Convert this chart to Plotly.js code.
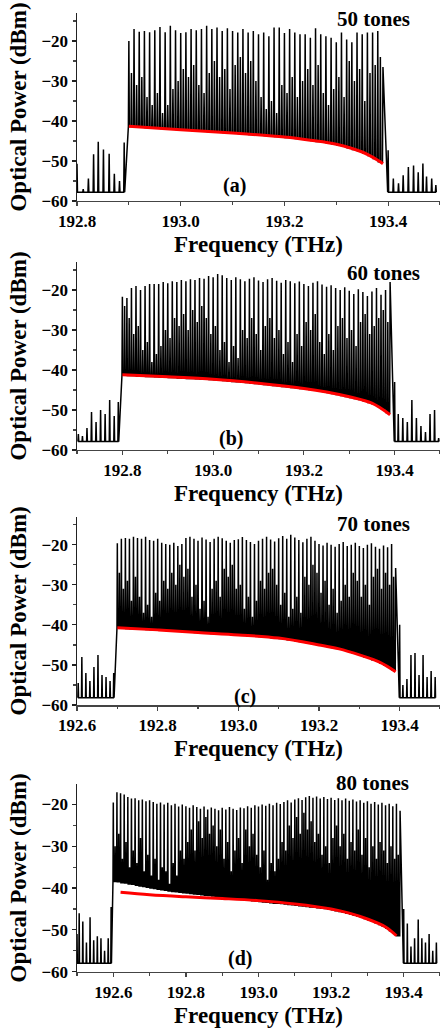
<!DOCTYPE html>
<html><head><meta charset="utf-8">
<script src="https://cdn.plot.ly/plotly-3.0.1.min.js"></script>
<style>html,body{margin:0;padding:0;background:#fff}#chart{width:440px;height:1032px}</style>
</head><body><div id="chart"></div>
<script>
// ---------- Panel (a): 50 tones ----------
const toneStartA = 192.90, toneStepA = 0.01;
const peaksA = [-20.0,-17.0,-17.7,-17.5,-17.8,-17.3,-16.5,-17.8,-16.2,-17.3,
  -18.0,-17.8,-17.0,-17.3,-17.0,-16.2,-17.0,-16.6,-17.5,-16.8,
  -17.5,-17.9,-17.0,-17.9,-17.5,-18.3,-17.9,-18.8,-16.6,-16.6,
  -18.0,-17.0,-17.9,-18.3,-18.3,-19.2,-16.8,-18.3,-18.8,-19.2,
  -20.3,-17.9,-19.6,-20.3,-17.9,-18.3,-17.9,-17.9,-17.5,-26.5];
const midsA = [-28,-31,-29,-34,-36,-33,-38,-36,-32,-30,
  -27,-29,-26,-31,-33,-28,-25,-29,-27,-32,
  -26,-24,-28,-25,-30,-34,-37,-35,-38,-31,
  -33,-29,-34,-30,-27,-31,-26,-33,-36,-32,
  -29,-34,-25,-30,-27,-35,-28,-26,-24];
const floorsA = [-41.35,-41.45,-41.55,-41.6,-41.7,-41.8,-41.9,-41.95,-42.05,-42.15,
  -42.25,-42.3,-42.4,-42.5,-42.55,-42.65,-42.7,-42.8,-42.9,-42.95,
  -43.05,-43.15,-43.25,-43.35,-43.45,-43.55,-43.65,-43.75,-43.85,-43.95,
  -44.1,-44.25,-44.4,-44.55,-44.7,-44.9,-45.1,-45.3,-45.5,-45.7,
  -45.95,-46.3,-46.7,-47.1,-47.5,-48.0,-48.6,-49.4,-50.2];
const noiseA = -57.8;
const spurLFreqA = [192.800,192.812,192.822,192.832,192.841,192.851,192.862,192.872,192.882,192.891];
const spurLValA  = [-50.7,-57.0,-54.4,-48.3,-45.2,-47.1,-48.2,-53.2,-55.0,-45.4];
const spurRFreqA = [193.400,193.410,193.420,193.429,193.439,193.449,193.458,193.467,193.474,193.484,193.492];
const spurRValA  = [-47.3,-54.4,-55.6,-53.6,-51.5,-51.1,-52.8,-50.6,-53.9,-54.4,-56.0];
const redFreqA = [192.90,193.00,193.10,193.20,193.25,193.30,193.35,193.38,193.39];
const redValA  = [-41.3,-42.2,-43.0,-44.0,-44.8,-45.8,-47.75,-49.8,-50.7];

// ---------- Panel (b): 60 tones ----------
const toneStartB = 192.80, toneStepB = 0.01;
const peaksB = [-21.7,-22.0,-19.5,-19.0,-20.0,-19.0,-18.5,-18.5,-18.5,-18.0,
  -18.3,-17.8,-18.0,-17.5,-17.8,-17.3,-17.5,-17.0,-17.2,-16.5,
  -16.8,-16.0,-16.3,-17.0,-17.5,-16.8,-17.3,-17.8,-17.2,-16.8,
  -17.6,-18.0,-17.3,-17.0,-17.7,-18.2,-17.5,-17.8,-18.3,-17.9,
  -18.5,-19.0,-18.2,-17.8,-18.6,-19.2,-18.8,-19.5,-20.0,-19.3,
  -20.2,-21.0,-19.8,-20.5,-21.5,-20.4,-19.5,-21.2,-20.0,-18.0];
const midsB = [-24,-27,-31,-29,-35,-33,-38,-36,-34,-30,
  -32,-27,-29,-26,-30,-25,-28,-24,-27,-31,
  -29,-35,-33,-38,-34,-37,-30,-32,-27,-31,
  -35,-29,-27,-32,-30,-36,-33,-38,-31,-34,
  -28,-30,-26,-33,-36,-31,-35,-29,-27,-32,
  -30,-34,-28,-26,-31,-29,-27,-25,-28];
const floorsB = [-41.3,-41.35,-41.4,-41.5,-41.55,-41.6,-41.65,-41.7,-41.75,-41.8,
  -41.85,-41.9,-42.0,-42.05,-42.1,-42.15,-42.2,-42.25,-42.3,-42.35,
  -42.45,-42.55,-42.65,-42.75,-42.85,-42.95,-43.05,-43.15,-43.25,-43.35,
  -43.45,-43.6,-43.7,-43.85,-43.95,-44.1,-44.2,-44.35,-44.45,-44.6,
  -44.7,-44.85,-45.05,-45.2,-45.4,-45.6,-45.85,-46.1,-46.35,-46.6,
  -46.85,-47.1,-47.4,-47.75,-48.1,-48.55,-49.05,-49.7,-50.6];
const noiseB = -57.9;
const spurLFreqB = [192.703,192.712,192.722,192.732,192.742,192.752,192.762,192.772,192.782,192.791];
const spurLValB  = [-56.0,-56.5,-54.5,-50.5,-53.0,-50.0,-51.0,-47.5,-51.5,-48.0];
const spurRFreqB = [193.400,193.408,193.418,193.428,193.438,193.448,193.458,193.468,193.478,193.488,193.497];
const spurRValB  = [-43.0,-51.0,-52.0,-53.0,-47.5,-52.0,-54.0,-55.5,-51.0,-50.0,-57.0];
const redFreqB = [192.80,192.90,193.00,193.10,193.20,193.25,193.30,193.35,193.39];
const redValB  = [-41.2,-41.7,-42.3,-43.3,-44.6,-45.5,-46.7,-48.3,-51.2];

// ---------- Panel (c): 70 tones ----------
const toneStartC = 192.70, toneStepC = 0.01;
const peaksC = [-19.6,-18.5,-18.3,-18.5,-18.0,-18.3,-18.5,-18.0,-18.8,-19.0,
  -18.5,-19.5,-19.8,-20.0,-19.5,-20.3,-19.8,-18.3,-18.0,-18.5,
  -19.0,-18.2,-18.7,-19.3,-18.5,-18.0,-18.4,-19.0,-19.5,-18.8,
  -18.6,-18.1,-18.8,-19.3,-19.8,-19.0,-18.5,-18.0,-18.7,-19.2,
  -18.4,-17.8,-18.5,-17.5,-18.2,-18.8,-19.4,-18.5,-18.0,-19.0,
  -19.8,-20.2,-19.5,-20.0,-20.5,-19.8,-19.3,-20.3,-20.0,-19.5,
  -20.3,-20.8,-20.0,-19.6,-20.5,-21.0,-20.2,-20.6,-19.8,-25.8];
const midsC = [-27,-31,-29,-34,-28,-33,-37,-35,-38,-32,
  -34,-29,-31,-27,-30,-25,-28,-26,-33,-30,
  -36,-34,-38,-31,-29,-33,-26,-28,-25,-31,
  -30,-36,-33,-38,-34,-29,-31,-27,-26,-30,
  -35,-32,-38,-36,-33,-37,-28,-30,-25,-27,
  -32,-29,-35,-31,-37,-34,-30,-33,-27,-29,
  -33,-30,-35,-28,-26,-31,-27,-30,-28];
const floorsC = [-40.8,-40.85,-40.9,-40.95,-41.0,-41.05,-41.1,-41.15,-41.2,-41.25,
  -41.3,-41.35,-41.4,-41.5,-41.55,-41.6,-41.7,-41.75,-41.8,-41.9,
  -41.95,-42.0,-42.1,-42.15,-42.2,-42.25,-42.3,-42.35,-42.4,-42.45,
  -42.55,-42.6,-42.7,-42.75,-42.85,-42.9,-43.0,-43.1,-43.2,-43.3,
  -43.4,-43.55,-43.7,-43.85,-44.0,-44.15,-44.3,-44.5,-44.65,-44.85,
  -45.05,-45.25,-45.45,-45.65,-45.85,-46.1,-46.35,-46.6,-46.9,-47.2,
  -47.6,-47.95,-48.3,-48.7,-49.05,-49.5,-50.0,-50.6,-51.2];
const noiseC = -58.2;
const spurLFreqC = [192.603,192.612,192.622,192.632,192.642,192.652,192.662,192.672,192.682,192.691];
const spurLValC  = [-54.5,-48.0,-52.0,-54.0,-50.5,-47.5,-52.5,-53.0,-54.0,-52.0];
const spurRFreqC = [193.400,193.408,193.418,193.428,193.438,193.448,193.458,193.468,193.478,193.488];
const spurRValC  = [-40.0,-55.0,-53.5,-47.5,-47.0,-52.5,-47.5,-53.0,-51.5,-53.0];
const redFreqC = [192.70,192.80,192.90,193.00,193.10,193.20,193.25,193.30,193.35,193.39];
const redValC  = [-40.7,-41.25,-41.9,-42.5,-43.3,-45.0,-46.0,-47.5,-49.3,-51.7];

// ---------- Panel (d): 80 tones ----------
const toneStartD = 192.60, toneStepD = 0.01;
const peaksD = [-19.5,-17.1,-17.3,-17.6,-18.2,-18.6,-18.5,-19.0,-18.8,-19.2,
  -19.0,-19.4,-19.8,-19.5,-20.0,-19.6,-20.2,-19.8,-20.5,-20.0,
  -20.4,-20.8,-20.2,-20.6,-21.0,-20.5,-21.2,-20.7,-21.0,-21.4,
  -20.8,-21.2,-20.6,-21.0,-21.3,-20.7,-20.9,-20.4,-20.8,-20.2,
  -20.5,-20.0,-20.3,-19.8,-20.2,-19.6,-19.9,-19.4,-19.0,-19.5,
  -18.8,-18.5,-18.9,-18.3,-18.0,-18.4,-18.1,-18.6,-18.2,-18.7,
  -18.4,-18.9,-18.5,-19.0,-18.6,-19.1,-18.8,-19.3,-19.0,-19.6,
  -19.2,-19.8,-19.4,-20.0,-19.6,-20.2,-19.8,-20.4,-19.8,-21.5];
const midsD = [-30,-27,-33,-29,-35,-31,-34,-28,-36,-32,
  -37,-33,-38,-35,-36,-39,-34,-37,-31,-33,
  -29,-26,-31,-24,-28,-23,-27,-25,-30,-26,
  -33,-29,-36,-31,-28,-34,-26,-30,-27,-32,
  -35,-31,-38,-34,-36,-33,-29,-31,-25,-28,
  -23,-27,-22,-26,-24,-29,-27,-32,-30,-34,
  -28,-25,-30,-27,-33,-29,-31,-26,-32,-28,
  -35,-30,-33,-29,-31,-34,-30,-33,-32];
const floorsD = [-38.4,-38.5,-38.7,-38.8,-39.0,-39.1,-39.3,-39.5,-39.6,-39.8,
  -40.0,-40.1,-40.3,-40.4,-40.5,-40.7,-40.8,-40.9,-41.0,-41.1,
  -41.2,-41.3,-41.4,-41.5,-41.6,-41.7,-41.8,-41.9,-42.0,-42.1,
  -42.2,-42.3,-42.4,-42.5,-42.6,-42.7,-42.8,-42.9,-43.0,-43.1,
  -43.2,-43.3,-43.4,-43.5,-43.6,-43.6,-43.7,-43.8,-43.9,-44.0,
  -44.1,-44.2,-44.3,-44.4,-44.5,-44.6,-44.7,-44.8,-44.9,-45.0,
  -45.2,-45.4,-45.6,-45.8,-46.0,-46.2,-46.5,-46.7,-47.0,-47.3,
  -47.6,-47.9,-48.3,-48.7,-49.1,-49.6,-50.2,-50.8,-51.4];
const noiseD = -58.0;
const spurLFreqD = [192.500,192.506,192.516,192.526,192.536,192.546,192.556,192.566,192.576,192.586,192.594];
const spurLValD  = [-51.0,-46.0,-48.0,-53.0,-47.0,-52.5,-51.5,-52.0,-55.0,-52.0,-44.5];
const spurRFreqD = [193.400,193.410,193.420,193.430,193.440,193.450,193.460,193.470,193.480,193.490];
const spurRValD  = [-45.0,-48.5,-54.0,-52.0,-47.5,-52.0,-53.0,-51.0,-55.0,-53.0];
const redFreqD = [192.62,192.70,192.80,192.90,193.00,193.10,193.20,193.25,193.30,193.35,193.38];
const redValD  = [-41.0,-41.6,-42.1,-42.5,-43.0,-43.8,-45.0,-46.0,-47.4,-49.3,-51.4];

// ---------- labels ----------
const toneLabels = ['50 tones','60 tones','70 tones','80 tones'];
const panelLabels = ['(a)','(b)','(c)','(d)'];
const xRanges = [[192.8,193.5],[192.7,193.5],[192.6,193.5],[192.5,193.5]];
const yTops = [-13,-13,-13,-15.1];
const xTitle = 'Frequency (THz)';
const yTitle = 'Optical Power (dBm)';

// build an OSA-like trace from the read values: narrow spikes on a floor
function spectrum(noise, lF, lV, start, step, peaks, mids, floors, rF, rV) {
  const x = [], y = [];
  const w = step * 0.09;
  lF.forEach((f, i) => { x.push(f - w, f, f + w); y.push(noise, lV[i], noise); });
  peaks.forEach((p, i) => {
    const f = start + i * step;
    if (i === 0) { x.push(f - w); y.push(floors[0]); }
    x.push(f); y.push(p);
    if (i < mids.length) {
      const m = f + step / 2;
      x.push(f + w, m - w, m, m + w, f + step - w);
      y.push(floors[i], floors[i], mids[i], floors[i], floors[i]);
    }
  });
  rF.forEach((f, i) => { x.push(f - w, f, f + w); y.push(noise, rV[i], noise); });
  return {x, y};
}

const specs = [
  spectrum(noiseA, spurLFreqA, spurLValA, toneStartA, toneStepA, peaksA, midsA, floorsA, spurRFreqA, spurRValA),
  spectrum(noiseB, spurLFreqB, spurLValB, toneStartB, toneStepB, peaksB, midsB, floorsB, spurRFreqB, spurRValB),
  spectrum(noiseC, spurLFreqC, spurLValC, toneStartC, toneStepC, peaksC, midsC, floorsC, spurRFreqC, spurRValC),
  spectrum(noiseD, spurLFreqD, spurLValD, toneStartD, toneStepD, peaksD, midsD, floorsD, spurRFreqD, spurRValD)
];
const reds = [[redFreqA, redValA],[redFreqB, redValB],[redFreqC, redValC],[redFreqD, redValD]];

const serif = 'Liberation Serif, Times New Roman, serif';
const traces = [];
const layout = {
  width: 440, height: 1032,
  margin: {l: 77, r: 0, t: 0, b: 60},
  paper_bgcolor: '#fff', plot_bgcolor: '#fff',
  showlegend: false,
  font: {family: serif, color: '#000'},
  annotations: []
};
const domains = [[0.79321,0.98663],[0.53704,0.73045],[0.27469,0.46842],[0.00031,0.19342]];
const tonePos = [[0.818,0.968],[0.844,0.944],[0.817,0.963],[0.814,1.005]];
const labPos = [[0.434,0.080],[0.423,0.059],[0.464,0.043],[0.449,0.068]];

for (let k = 0; k < 4; k++) {
  const s = k === 0 ? '' : String(k + 1);
  traces.push({x: specs[k].x, y: specs[k].y, xaxis: 'x' + s, yaxis: 'y' + s, type: 'scatter', mode: 'lines',
    line: {color: '#000', width: 1.5}, hoverinfo: 'skip'});
  traces.push({x: reds[k][0], y: reds[k][1], xaxis: 'x' + s, yaxis: 'y' + s, type: 'scatter', mode: 'lines',
    line: {color: '#ff0000', width: 3, shape: 'spline'}, hoverinfo: 'skip'});
  layout['xaxis' + s] = {
    domain: [0, 1], anchor: 'y' + s, range: xRanges[k], dtick: 0.2, tick0: 192.0, tickformat: '.1f',
    showline: true, linecolor: '#444', linewidth: 1.5, showgrid: false, zeroline: false,
    ticks: 'outside', ticklen: 4, tickcolor: '#444', tickwidth: 1.2,
    minor: {dtick: 0.1, ticks: 'outside', ticklen: 2.5, tickcolor: '#444'},
    tickfont: {family: serif, size: 17, weight: 'bold', color: '#000'},
    title: {text: xTitle, font: {family: serif, size: 23, weight: 'bold', color: '#000'}, standoff: 6}
  };
  layout['yaxis' + s] = {
    domain: domains[k], anchor: 'x' + s, range: [-60, yTops[k]], dtick: 10, tick0: -60,
    showline: true, linecolor: '#222', linewidth: 1.5, showgrid: false, zeroline: false,
    ticks: 'outside', ticklen: 4, tickcolor: '#222', tickwidth: 1.2,
    minor: {dtick: 5, ticks: 'outside', ticklen: 2.5, tickcolor: '#444'},
    tickfont: {family: serif, size: 17, weight: 'bold', color: '#000'},
    title: {text: yTitle, font: {family: serif, size: 23, weight: 'bold', color: '#000'}, standoff: 8}
  };
  layout.annotations.push({xref: 'x' + s + ' domain', yref: 'y' + s + ' domain', x: tonePos[k][0], y: tonePos[k][1],
    xanchor: 'center', yanchor: 'middle', showarrow: false, text: toneLabels[k],
    font: {family: serif, size: 21, weight: 'bold', color: '#000'}});
  layout.annotations.push({xref: 'x' + s + ' domain', yref: 'y' + s + ' domain', x: labPos[k][0], y: labPos[k][1],
    xanchor: 'center', yanchor: 'middle', showarrow: false, text: panelLabels[k],
    font: {family: serif, size: 20, weight: 'bold', color: '#000'}});
}

Plotly.newPlot('chart', traces, layout, {staticPlot: true, displayModeBar: false});
</script></body></html>
